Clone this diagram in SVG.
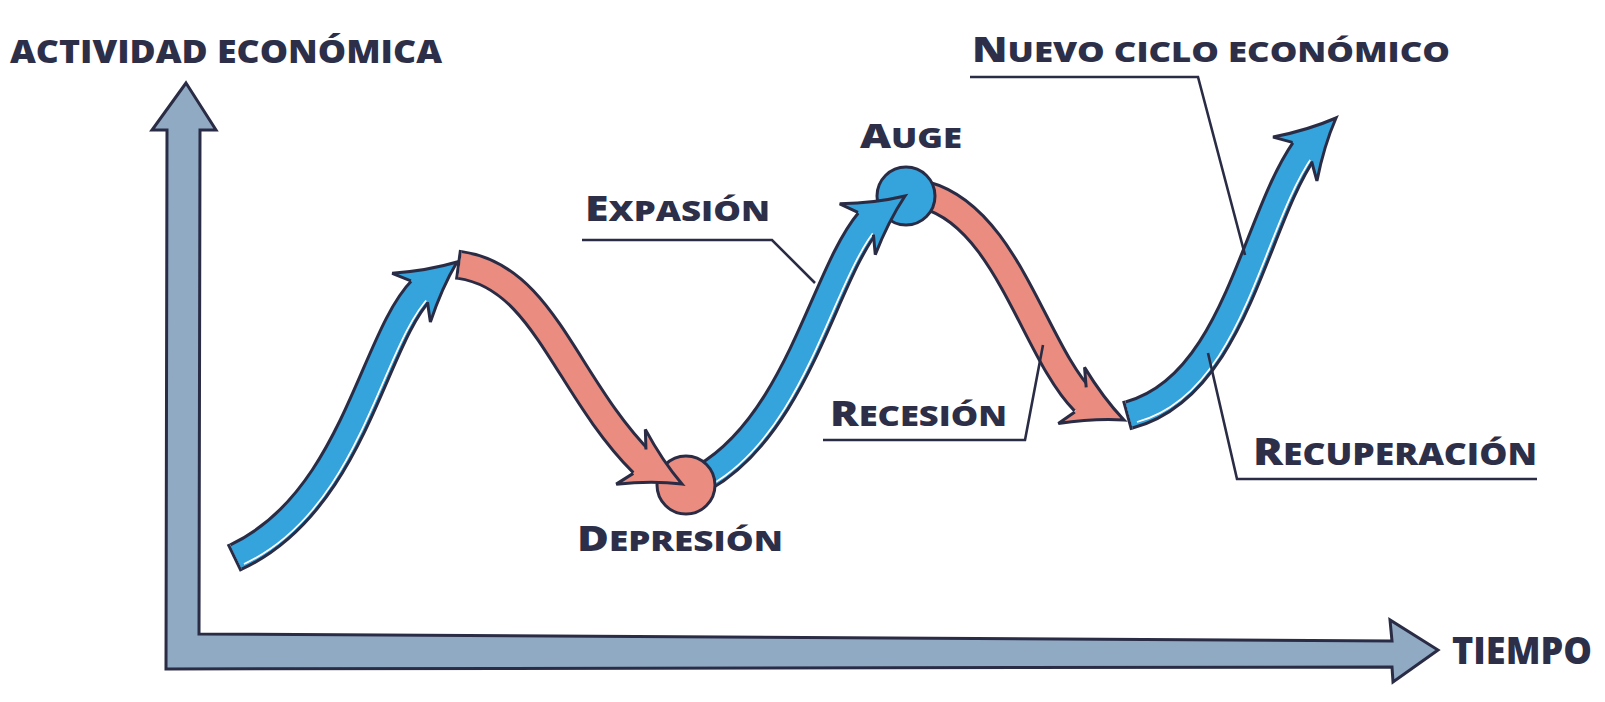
<svg xmlns="http://www.w3.org/2000/svg" xmlns:xlink="http://www.w3.org/1999/xlink" width="1605" height="702" viewBox="0 0 1605 702">
<style>
.out{fill:none;stroke:#2A2C45;stroke-width:30}
.fb{fill:none;stroke:#35A3DC;stroke-width:24}
.fr{fill:none;stroke:#EA8D80;stroke-width:24}
.hb{fill:#35A3DC}
.hr{fill:#EA8D80}
.hl{fill:none;stroke:#2A2C45;stroke-width:3;stroke-linejoin:miter}
.hi{fill:none;stroke:#ffffff;stroke-width:1.8}
.lead{fill:none;stroke:#2A2C45;stroke-width:2.6}
.t{font-family:"Open Sans","Noto Sans",sans-serif;font-weight:800;fill:#2D2F48}
</style>
<defs>
<path id="pb1" d="M236,557 C353.8,502 372.8,338.6 422.3,289.1"/>
<path id="pr1" d="M460,265 C544,276.8 565.2,385.2 643.1,463.4"/>
<path id="pb2" d="M703,478 C798.3,423 824,274.6 869,221.2"/>
<path id="pr2" d="M925,195 C1007.1,217 1034.5,351.5 1084.1,401.4"/>
<path id="pb3" d="M1129,415 C1235.3,386.5 1253.3,222.7 1304.9,149.1"/>
<path id="head" d="M0,0 Q-28,-11 -58,-31 L-48,-15 L-48,15 L-58,31 Q-28,11 0,0Z"/>
<path id="headline" d="M-48,-13.5 L-58,-31 Q-28,-11 0,0 Q-28,11 -58,31 L-48,13.5"/>
<mask id="m1" maskUnits="userSpaceOnUse" x="0" y="0" width="1605" height="702"><use xlink:href="#pb1" fill="none" stroke="#fff" stroke-width="23"/></mask>
<mask id="m2" maskUnits="userSpaceOnUse" x="0" y="0" width="1605" height="702"><use xlink:href="#pb2" fill="none" stroke="#fff" stroke-width="23"/></mask>
<mask id="m3" maskUnits="userSpaceOnUse" x="0" y="0" width="1605" height="702"><use xlink:href="#pb3" fill="none" stroke="#fff" stroke-width="23"/></mask>
</defs>
<rect width="1605" height="702" fill="#ffffff"/>

<g id="axes">
<path d="M186,83 L216,130 L200,130 L199,634 L1392,641 L1390,620 L1438,650 L1393,682 L1392,667 L166,669 L167,130 L152,130 Z" fill="#91AAC4" stroke="#2A2C45" stroke-width="3" stroke-linejoin="miter"/>
</g>

<g id="arrow-blue-1">
<path d="M233.3,558.3 L236,557" class="out"/>
<use xlink:href="#pb1" class="out"/>
<use xlink:href="#pb1" class="fb"/>
<g mask="url(#m1)"><use xlink:href="#pb1" class="hi" transform="translate(8,7)"/></g>
<g transform="translate(457,262) rotate(-38)"><use xlink:href="#head" class="hb"/><use xlink:href="#headline" class="hl"/></g>
</g>

<g id="arrow-red-1-body">
<path d="M457,264.6 L460,265" class="out"/>
<use xlink:href="#pr1" class="out"/>
<use xlink:href="#pr1" class="fr"/>
</g>

<g id="arrow-blue-2-body">
<use xlink:href="#pb2" class="out"/>
<use xlink:href="#pb2" class="fb"/>
<g mask="url(#m2)"><use xlink:href="#pb2" class="hi" transform="translate(8,7)"/></g>
</g>

<g id="arrow-red-2-body">
<use xlink:href="#pr2" class="out"/>
<use xlink:href="#pr2" class="fr"/>
</g>

<g id="node-depresion">
<circle cx="686" cy="485" r="29" fill="#EA8D80" stroke="#2A2C45" stroke-width="3"/>
</g>
<g id="node-auge">
<circle cx="906" cy="196" r="29" fill="#35A3DC" stroke="#2A2C45" stroke-width="3"/>
</g>

<g id="arrow-heads">
<g transform="translate(682,484) rotate(28)"><use xlink:href="#head" class="hr"/><use xlink:href="#headline" class="hl"/></g>
<g transform="translate(905,196) rotate(-35)"><use xlink:href="#head" class="hb"/><use xlink:href="#headline" class="hl"/></g>
<g transform="translate(1124,420) rotate(25)"><use xlink:href="#head" class="hr"/><use xlink:href="#headline" class="hl"/></g>
</g>

<g id="arrow-blue-3">
<path d="M1126.1,415.8 L1129,415" class="out"/>
<use xlink:href="#pb3" class="out"/>
<use xlink:href="#pb3" class="fb"/>
<g mask="url(#m3)"><use xlink:href="#pb3" class="hi" transform="translate(8,7)"/></g>
<g transform="translate(1336,118) rotate(-45)"><use xlink:href="#head" class="hb"/><use xlink:href="#headline" class="hl"/></g>
</g>

<g id="connectors">
<path class="lead" d="M582,240 H772 L815,283"/>
<path class="lead" d="M970,77 H1198 L1245,255"/>
<path class="lead" d="M823,440 H1025 L1043,345"/>
<path class="lead" d="M1208,353 L1237,479 H1537"/>
</g>

<g id="labels">
<text id="label-y" class="t" x="10" y="63" font-size="32" textLength="432" lengthAdjust="spacingAndGlyphs">ACTIVIDAD ECONÓMICA</text>
<text id="label-nuevo" class="t" x="972" y="62" textLength="478" lengthAdjust="spacingAndGlyphs"><tspan font-size="35">N</tspan><tspan font-size="28.5">UEVO CICLO ECONÓMICO</tspan></text>
<text id="label-auge" class="t" x="860" y="148" textLength="102" lengthAdjust="spacingAndGlyphs"><tspan font-size="34">A</tspan><tspan font-size="27.5">UGE</tspan></text>
<text id="label-expasion" class="t" x="585" y="221" textLength="185" lengthAdjust="spacingAndGlyphs"><tspan font-size="35">E</tspan><tspan font-size="28.5">XPASIÓN</tspan></text>
<text id="label-depresion" class="t" x="577" y="551" textLength="206" lengthAdjust="spacingAndGlyphs"><tspan font-size="36">D</tspan><tspan font-size="29">EPRESIÓN</tspan></text>
<text id="label-recesion" class="t" x="830" y="426" textLength="177" lengthAdjust="spacingAndGlyphs"><tspan font-size="35">R</tspan><tspan font-size="28.5">ECESIÓN</tspan></text>
<text id="label-recuperacion" class="t" x="1253" y="465" textLength="284" lengthAdjust="spacingAndGlyphs"><tspan font-size="37">R</tspan><tspan font-size="29.5">ECUPERACIÓN</tspan></text>
<text id="label-x" class="t" x="1452" y="664" font-size="37" textLength="140" lengthAdjust="spacingAndGlyphs">TIEMPO</text>
</g>
</svg>
